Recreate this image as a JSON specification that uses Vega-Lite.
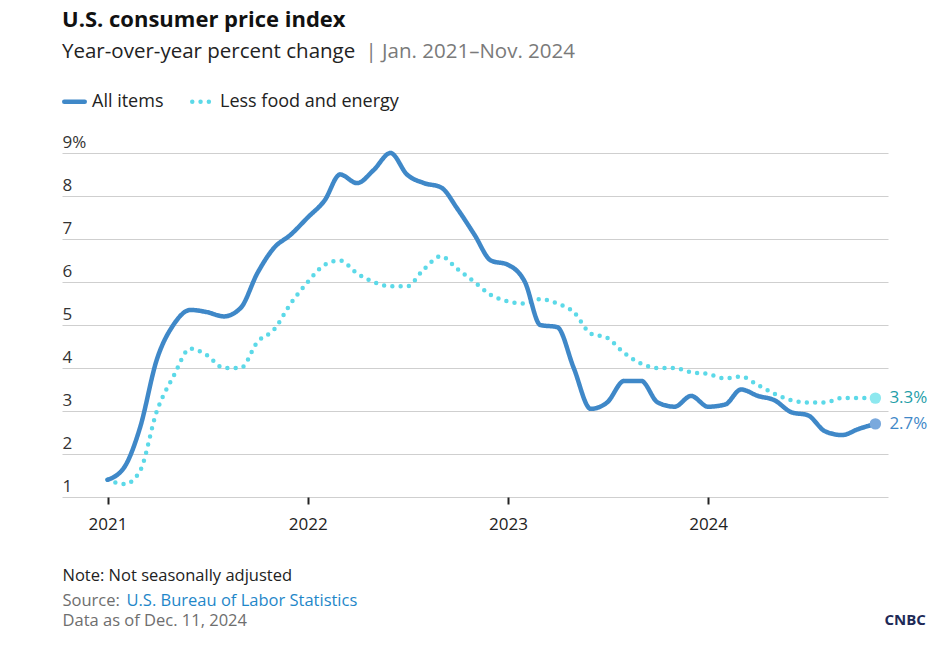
{
  "$schema": "https://vega.github.io/schema/vega-lite/v6.json",
  "width": 826,
  "height": 344,
  "autosize": "none",
  "padding": {"left": 62, "top": 153, "right": 52, "bottom": 152},
  "background": "white",
  "title": {
    "text": "U.S. consumer price index",
    "subtitle": "Year-over-year percent change",
    "anchor": "start",
    "frame": "group",
    "orient": "top",
    "font": "Open Sans",
    "fontSize": 22,
    "fontWeight": "bold",
    "color": "#111111",
    "subtitleFont": "Open Sans",
    "subtitleFontSize": 20.5,
    "subtitleColor": "#222222",
    "subtitlePadding": 10,
    "offset": -22
  },
  "data": {
    "values": [
      {"date": "2021-01-01", "series": "Less food and energy", "value": 1.4},
      {"date": "2021-02-01", "series": "Less food and energy", "value": 1.3},
      {"date": "2021-03-01", "series": "Less food and energy", "value": 1.6},
      {"date": "2021-04-01", "series": "Less food and energy", "value": 3.0},
      {"date": "2021-05-01", "series": "Less food and energy", "value": 3.8},
      {"date": "2021-06-01", "series": "Less food and energy", "value": 4.45},
      {"date": "2021-07-01", "series": "Less food and energy", "value": 4.3},
      {"date": "2021-08-01", "series": "Less food and energy", "value": 4.0},
      {"date": "2021-09-01", "series": "Less food and energy", "value": 4.0},
      {"date": "2021-10-01", "series": "Less food and energy", "value": 4.6},
      {"date": "2021-11-01", "series": "Less food and energy", "value": 4.9},
      {"date": "2021-12-01", "series": "Less food and energy", "value": 5.5},
      {"date": "2022-01-01", "series": "Less food and energy", "value": 6.0},
      {"date": "2022-02-01", "series": "Less food and energy", "value": 6.4},
      {"date": "2022-03-01", "series": "Less food and energy", "value": 6.5},
      {"date": "2022-04-01", "series": "Less food and energy", "value": 6.2},
      {"date": "2022-05-01", "series": "Less food and energy", "value": 6.0},
      {"date": "2022-06-01", "series": "Less food and energy", "value": 5.9},
      {"date": "2022-07-01", "series": "Less food and energy", "value": 5.9},
      {"date": "2022-08-01", "series": "Less food and energy", "value": 6.3},
      {"date": "2022-09-01", "series": "Less food and energy", "value": 6.6},
      {"date": "2022-10-01", "series": "Less food and energy", "value": 6.3},
      {"date": "2022-11-01", "series": "Less food and energy", "value": 6.0},
      {"date": "2022-12-01", "series": "Less food and energy", "value": 5.7},
      {"date": "2023-01-01", "series": "Less food and energy", "value": 5.55},
      {"date": "2023-02-01", "series": "Less food and energy", "value": 5.5},
      {"date": "2023-03-01", "series": "Less food and energy", "value": 5.6},
      {"date": "2023-04-01", "series": "Less food and energy", "value": 5.5},
      {"date": "2023-05-01", "series": "Less food and energy", "value": 5.3},
      {"date": "2023-06-01", "series": "Less food and energy", "value": 4.8},
      {"date": "2023-07-01", "series": "Less food and energy", "value": 4.7},
      {"date": "2023-08-01", "series": "Less food and energy", "value": 4.35},
      {"date": "2023-09-01", "series": "Less food and energy", "value": 4.1},
      {"date": "2023-10-01", "series": "Less food and energy", "value": 4.0},
      {"date": "2023-11-01", "series": "Less food and energy", "value": 4.0},
      {"date": "2023-12-01", "series": "Less food and energy", "value": 3.9},
      {"date": "2024-01-01", "series": "Less food and energy", "value": 3.86},
      {"date": "2024-02-01", "series": "Less food and energy", "value": 3.76},
      {"date": "2024-03-01", "series": "Less food and energy", "value": 3.8},
      {"date": "2024-04-01", "series": "Less food and energy", "value": 3.6},
      {"date": "2024-05-01", "series": "Less food and energy", "value": 3.4},
      {"date": "2024-06-01", "series": "Less food and energy", "value": 3.25},
      {"date": "2024-07-01", "series": "Less food and energy", "value": 3.2},
      {"date": "2024-08-01", "series": "Less food and energy", "value": 3.2},
      {"date": "2024-09-01", "series": "Less food and energy", "value": 3.3},
      {"date": "2024-10-01", "series": "Less food and energy", "value": 3.3},
      {"date": "2024-11-01", "series": "Less food and energy", "value": 3.3},
      {"date": "2021-01-01", "series": "All items", "value": 1.4},
      {"date": "2021-02-01", "series": "All items", "value": 1.7},
      {"date": "2021-03-01", "series": "All items", "value": 2.6},
      {"date": "2021-04-01", "series": "All items", "value": 4.2},
      {"date": "2021-05-01", "series": "All items", "value": 5.0},
      {"date": "2021-06-01", "series": "All items", "value": 5.35},
      {"date": "2021-07-01", "series": "All items", "value": 5.3},
      {"date": "2021-08-01", "series": "All items", "value": 5.2},
      {"date": "2021-09-01", "series": "All items", "value": 5.4},
      {"date": "2021-10-01", "series": "All items", "value": 6.2},
      {"date": "2021-11-01", "series": "All items", "value": 6.8},
      {"date": "2021-12-01", "series": "All items", "value": 7.1},
      {"date": "2022-01-01", "series": "All items", "value": 7.5},
      {"date": "2022-02-01", "series": "All items", "value": 7.9},
      {"date": "2022-03-01", "series": "All items", "value": 8.5},
      {"date": "2022-04-01", "series": "All items", "value": 8.3},
      {"date": "2022-05-01", "series": "All items", "value": 8.6},
      {"date": "2022-06-01", "series": "All items", "value": 9.0},
      {"date": "2022-07-01", "series": "All items", "value": 8.5},
      {"date": "2022-08-01", "series": "All items", "value": 8.3},
      {"date": "2022-09-01", "series": "All items", "value": 8.2},
      {"date": "2022-10-01", "series": "All items", "value": 7.7},
      {"date": "2022-11-01", "series": "All items", "value": 7.1},
      {"date": "2022-12-01", "series": "All items", "value": 6.5},
      {"date": "2023-01-01", "series": "All items", "value": 6.4},
      {"date": "2023-02-01", "series": "All items", "value": 6.0},
      {"date": "2023-03-01", "series": "All items", "value": 5.0},
      {"date": "2023-04-01", "series": "All items", "value": 4.95},
      {"date": "2023-05-01", "series": "All items", "value": 4.0},
      {"date": "2023-06-01", "series": "All items", "value": 3.05},
      {"date": "2023-07-01", "series": "All items", "value": 3.2},
      {"date": "2023-08-01", "series": "All items", "value": 3.7},
      {"date": "2023-09-01", "series": "All items", "value": 3.7},
      {"date": "2023-10-01", "series": "All items", "value": 3.2},
      {"date": "2023-11-01", "series": "All items", "value": 3.1},
      {"date": "2023-12-01", "series": "All items", "value": 3.35},
      {"date": "2024-01-01", "series": "All items", "value": 3.1},
      {"date": "2024-02-01", "series": "All items", "value": 3.15},
      {"date": "2024-03-01", "series": "All items", "value": 3.5},
      {"date": "2024-04-01", "series": "All items", "value": 3.35},
      {"date": "2024-05-01", "series": "All items", "value": 3.25},
      {"date": "2024-06-01", "series": "All items", "value": 2.97},
      {"date": "2024-07-01", "series": "All items", "value": 2.9},
      {"date": "2024-08-01", "series": "All items", "value": 2.53},
      {"date": "2024-09-01", "series": "All items", "value": 2.44},
      {"date": "2024-10-01", "series": "All items", "value": 2.58},
      {"date": "2024-11-01", "series": "All items", "value": 2.7}
    ]
  },
  "layer": [
    {
      "mark": {"type": "line", "interpolate": "monotone", "strokeWidth": 4.5, "strokeCap": "round", "strokeJoin": "round"},
      "encoding": {
        "x": {
          "field": "date", "type": "temporal",
          "scale": {"domain": [{"year": 2020, "month": 10, "date": 10}, {"year": 2024, "month": 11, "date": 24}]},
          "axis": {
            "orient": "bottom", "title": null, "grid": false, "domain": false,
            "values": [{"year": 2021, "month": 1, "date": 1}, {"year": 2022, "month": 1, "date": 1}, {"year": 2023, "month": 1, "date": 1}, {"year": 2024, "month": 1, "date": 1}],
            "format": "%Y", "ticks": true, "tickSize": 7, "tickWidth": 2, "tickColor": "#222222",
            "labelFontSize": 17, "labelColor": "#222222", "labelPadding": 12, "labelFlush": false
          }
        },
        "y": {
          "field": "value", "type": "quantitative",
          "scale": {"domain": [1, 9], "nice": false, "zero": false},
          "axis": {
            "orient": "left", "title": null, "values": [1, 2, 3, 4, 5, 6, 7, 8, 9],
            "labelAlign": "left", "labelBaseline": "alphabetic", "labelOffset": -6, "labelPadding": 0,
            "ticks": false, "tickSize": 0, "domain": false, "grid": true, "gridColor": "#cfcfcf", "gridWidth": 1,
            "labelFontSize": 17, "labelColor": "#333333",
            "labelExpr": "datum.value == 9 ? '9%' : datum.label"
          }
        },
        "color": {
          "field": "series", "type": "nominal",
          "scale": {"domain": ["All items", "Less food and energy"], "range": ["#3f88c8", "#5cd9e8"]},
          "legend": {"title": null, "labelLimit": 400, "encode": {"symbols": {"update": {"strokeCap": {"value": "round"}, "strokeDash": {"signal": "datum.value == 'All items' ? [1, 0] : [0, 9.5, 0, 30]"}}}}}
        },
        "strokeDash": {
          "field": "series", "type": "nominal",
          "scale": {"domain": ["All items", "Less food and energy"], "range": [[1, 0], [0, 8.3]]},
          "legend": {"title": null, "labelLimit": 400, "encode": {"symbols": {"update": {"strokeCap": {"value": "round"}, "strokeDash": {"signal": "datum.value == 'All items' ? [1, 0] : [0, 9.5, 0, 30]"}}}}}
        }
      }
    },
    {
      "transform": [{"filter": "datum.series == 'All items' && utcyear(datum.date) == 2024 && utcmonth(datum.date) == 10"}],
      "mark": {"type": "circle", "size": 130, "opacity": 1, "color": "#7aa9dd"},
      "encoding": {
        "x": {"field": "date", "type": "temporal",
          "axis": {"orient": "top", "labels": false, "ticks": false, "domain": false, "grid": false,
            "title": "| Jan. 2021\u2013Nov. 2024", "titleX": 303, "titleY": -95.7, "titleAngle": 0,
            "titleAlign": "left", "titleBaseline": "alphabetic", "titleFontSize": 20.5, "titleFontWeight": "normal",
            "titleColor": "#7a7a7a", "titlePadding": 0}},
        "y": {"field": "value", "type": "quantitative",
          "axis": {"orient": "left", "labels": false, "ticks": false, "domain": false, "grid": false,
            "title": "Note: Not seasonally adjusted", "titleX": 0, "titleY": 427.7, "titleAngle": 0,
            "titleAlign": "left", "titleBaseline": "alphabetic", "titleFontSize": 16.5, "titleFontWeight": "normal",
            "titleColor": "#222222", "titlePadding": 0}}
      }
    },
    {
      "transform": [{"filter": "datum.series == 'Less food and energy' && utcyear(datum.date) == 2024 && utcmonth(datum.date) == 10"}],
      "mark": {"type": "circle", "size": 130, "opacity": 1, "color": "#8de8ef"},
      "encoding": {
        "x": {"field": "date", "type": "temporal",
          "axis": {"orient": "bottom", "labels": false, "ticks": false, "domain": false, "grid": false,
            "title": "Source:", "titleX": 0, "titleY": 108, "titleAngle": 0,
            "titleAlign": "left", "titleBaseline": "alphabetic", "titleFontSize": 16.5, "titleFontWeight": "normal",
            "titleColor": "#6e6e6e", "titlePadding": 0}},
        "y": {"field": "value", "type": "quantitative",
          "axis": {"orient": "left", "labels": false, "ticks": false, "domain": false, "grid": false,
            "title": "U.S. Bureau of Labor Statistics", "titleX": 64, "titleY": 452, "titleAngle": 0,
            "titleAlign": "left", "titleBaseline": "alphabetic", "titleFontSize": 16.5, "titleFontWeight": "normal",
            "titleColor": "#1f87c9", "titlePadding": 0}}
      }
    },
    {
      "transform": [
        {"filter": "datum.series == 'All items' && utcyear(datum.date) == 2024 && utcmonth(datum.date) == 10"},
        {"calculate": "format(datum.value, '.1f') + '%'", "as": "label"}
      ],
      "mark": {"type": "text", "align": "left", "baseline": "middle", "dx": 14, "fontSize": 17, "color": "#3f88c8"},
      "encoding": {
        "x": {"field": "date", "type": "temporal",
          "axis": {"orient": "bottom", "labels": false, "ticks": false, "domain": false, "grid": false,
            "title": "Data as of Dec. 11, 2024", "titleX": 0, "titleY": 128, "titleAngle": 0,
            "titleAlign": "left", "titleBaseline": "alphabetic", "titleFontSize": 16.5, "titleFontWeight": "normal",
            "titleColor": "#6e6e6e", "titlePadding": 0}},
        "y": {"field": "value", "type": "quantitative",
          "axis": {"orient": "left", "labels": false, "ticks": false, "domain": false, "grid": false,
            "title": "CNBC", "titleX": 822, "titleY": 471, "titleAngle": 0,
            "titleAlign": "left", "titleBaseline": "alphabetic", "titleFontSize": 15, "titleFontWeight": "bold",
            "titleColor": "#1e2a57", "titlePadding": 0}},
        "text": {"field": "label", "type": "nominal"}
      }
    },
    {
      "transform": [
        {"filter": "datum.series == 'Less food and energy' && utcyear(datum.date) == 2024 && utcmonth(datum.date) == 10"},
        {"calculate": "format(datum.value, '.1f') + '%'", "as": "label"}
      ],
      "mark": {"type": "text", "align": "left", "baseline": "middle", "dx": 14, "fontSize": 17, "color": "#1f9ea8"},
      "encoding": {
        "x": {"field": "date", "type": "temporal", "axis": null},
        "y": {"field": "value", "type": "quantitative", "axis": null},
        "text": {"field": "label", "type": "nominal"}
      }
    }
  ],
  "resolve": {"axis": {"x": "independent", "y": "independent"}},
  "config": {
    "font": "Open Sans",
    "view": {"stroke": null},
    "axis": {"labelFont": "Open Sans", "titleFont": "Open Sans"},
    "text": {"font": "Open Sans"},
    "legend": {
      "orient": "none", "legendX": 0, "legendY": -64, "direction": "horizontal",
      "symbolType": "stroke", "symbolSize": 420, "symbolStrokeWidth": 4.5,
      "labelFontSize": 18, "labelColor": "#222222", "labelFont": "Open Sans", "labelLimit": 400,
      "labelOffset": 5, "columnPadding": 19
    }
  }
}
